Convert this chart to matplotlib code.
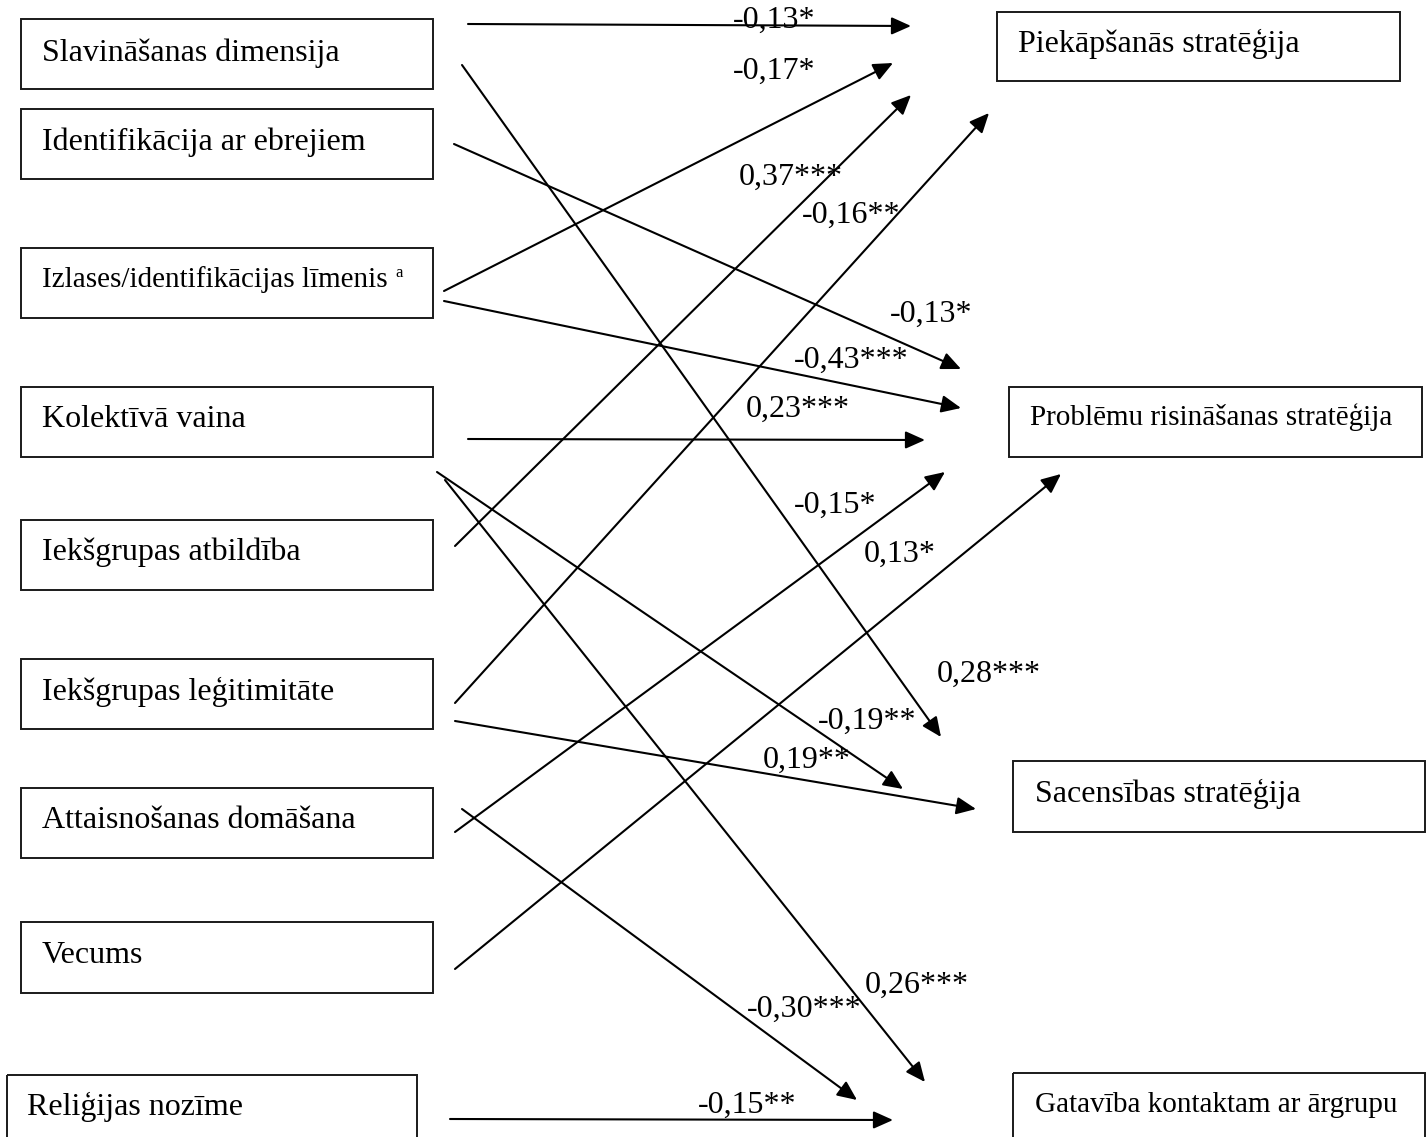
#!/usr/bin/env python3
"""
Ceļu diagramma: prediktori -> stratēģijas (standartizētie koeficienti).
Koordinātes ir pikseļos (attēls 1428x1137), y ass vērsta uz leju.
"""
import matplotlib
matplotlib.use("Agg")
import matplotlib.pyplot as plt
from matplotlib.patches import Rectangle

# ---------------- dati ----------------
PREDICTORS = [
    "Slavināšanas dimensija",
    "Identifikācija ar ebrejiem",
    "Izlases/identifikācijas līmenis",
    "Kolektīvā vaina",
    "Iekšgrupas atbildība",
    "Iekšgrupas leģitimitāte",
    "Attaisnošanas domāšana",
    "Vecums",
    "Reliģijas nozīme",
]

OUTCOMES = [
    "Piekāpšanās stratēģija",
    "Problēmu risināšanas stratēģija",
    "Sacensības stratēģija",
    "Gatavība kontaktam ar ārgrupu",
]

# katrs ceļš: no prediktora -> uz iznākumu, koeficients
PATH_FROM = [0, 2, 4, 5, 1, 2, 3, 6, 7, 0, 3, 5, 3, 6, 8]
PATH_TO = [0, 0, 0, 0, 1, 1, 1, 1, 1, 2, 2, 2, 3, 3, 3]
PATH_COEF = ["-0,13*", "-0,17*", "0,37***", "-0,16**",
             "-0,13*", "-0,43***", "0,23***", "-0,15*", "0,13*",
             "0,28***", "-0,19**", "0,19**",
             "0,26***", "-0,30***", "-0,15**"]

# ---------------- izkārtojums (px) ----------------
W, H = 1428, 1137

PRED_BOX = [  # x0, y0, x1, y1
    (21, 19, 433, 89),
    (21, 109, 433, 179),
    (21, 248, 433, 318),
    (21, 387, 433, 457),
    (21, 520, 433, 590),
    (21, 659, 433, 729),
    (21, 788, 433, 858),
    (21, 922, 433, 993),
    (7, 1075, 417, 1150),
]
PRED_TEXT = [(42, 61), (42, 150), (42, 287), (42, 427), (42, 560),
             (42, 700), (42, 828), (42, 963), (27, 1115)]
PRED_SMALL = [False, False, True, False, False, False, False, False, False]

OUT_BOX = [
    (997, 12, 1400, 81),
    (1009, 387, 1422, 457),
    (1013, 761, 1425, 832),
    (1013, 1073, 1425, 1150),
]
OUT_TEXT = [(1018, 52), (1030, 425), (1035, 802), (1035, 1112)]
OUT_SMALL = [False, True, False, True]

PATH_START = [(468, 24), (444, 291), (455, 546), (455, 703),
              (454, 144), (444, 301), (468, 439), (455, 832), (455, 969),
              (462, 65), (437, 472), (455, 721),
              (445, 480), (462, 809), (450, 1119)]
PATH_END = [(911, 26), (893, 63), (911, 95), (989, 113),
            (961, 369), (961, 408), (925, 440), (945, 472), (1061, 474),
            (941, 737), (903, 789), (976, 809),
            (925, 1082), (857, 1100), (893, 1120)]
LABEL_POS = [(733, 28), (733, 79), (739, 185), (802, 223),
             (890, 322), (794, 368), (746, 417), (794, 513), (864, 562),
             (937, 682), (818, 729), (763, 768),
             (865, 993), (747, 1017), (698, 1113)]

FONT = "Liberation Serif"
SIZE_MAIN = 23
SIZE_SMALL = 21


def draw_box(ax, box, label, pos, small):
    x0, y0, x1, y1 = box
    ax.add_patch(Rectangle((x0, y0), x1 - x0, y1 - y0, fill=False,
                           edgecolor="#1a1a1a", linewidth=1.4))
    ax.text(pos[0], pos[1], label, fontsize=SIZE_SMALL if small else SIZE_MAIN,
            family=FONT, ha="left", va="baseline", color="black")


def main():
    fig = plt.figure(figsize=(W / 100, H / 100), dpi=100)
    ax = fig.add_axes([0, 0, 1, 1])
    ax.set_xlim(0, W)
    ax.set_ylim(H, 0)
    ax.axis("off")

    for i, name in enumerate(PREDICTORS):
        draw_box(ax, PRED_BOX[i], name, PRED_TEXT[i], PRED_SMALL[i])
    # augšraksts "a" pie izlases līmeņa
    ax.text(395, 277, "a", fontsize=12, family=FONT, ha="left", va="baseline")

    for i, name in enumerate(OUTCOMES):
        draw_box(ax, OUT_BOX[i], name, OUT_TEXT[i], OUT_SMALL[i])

    for k in range(len(PATH_COEF)):
        ax.annotate("", xy=PATH_END[k], xytext=PATH_START[k],
                    arrowprops=dict(arrowstyle="-|>,head_length=0.85,head_width=0.38",
                                    mutation_scale=14, lw=1.5, color="black",
                                    shrinkA=0, shrinkB=0))
        ax.text(LABEL_POS[k][0], LABEL_POS[k][1], PATH_COEF[k],
                fontsize=SIZE_MAIN, family=FONT, ha="left", va="baseline")

    fig.savefig("out.png", dpi=100)


if __name__ == "__main__":
    main()
